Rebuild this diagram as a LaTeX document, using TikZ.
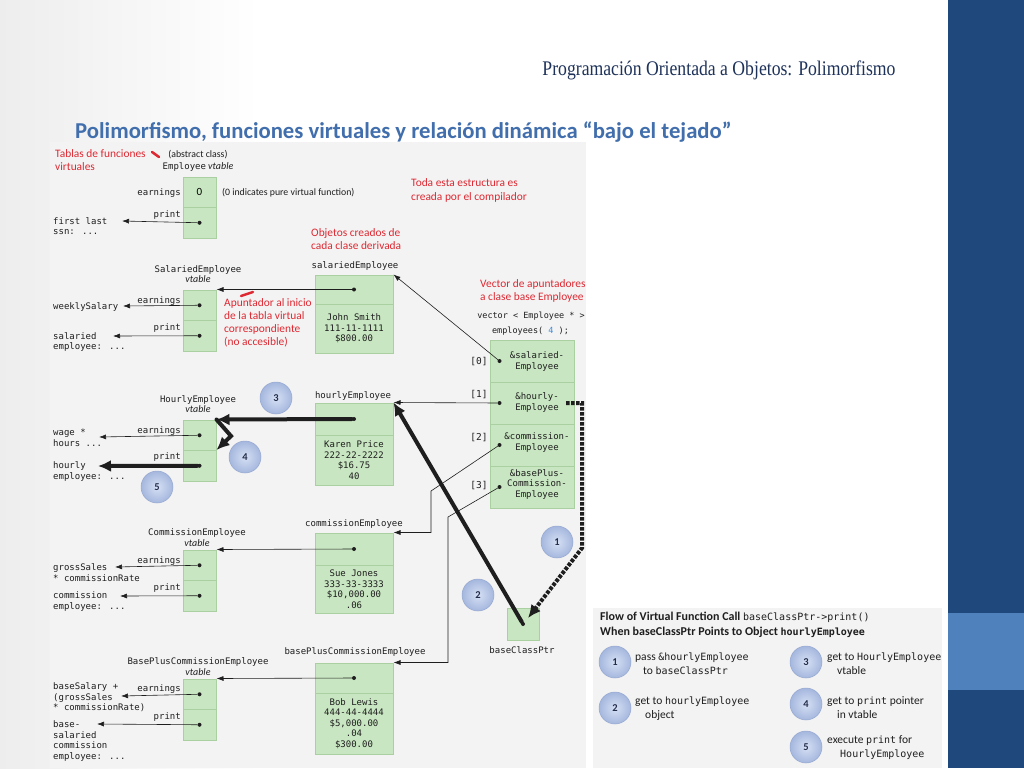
\documentclass[tikz,border=0pt]{standalone}
\usepackage{fontspec}
\setmainfont{Carlito}
\newfontfamily\codefont{DejaVu Sans Mono}
\newfontfamily\titlefont[FakeStretch=0.85]{Liberation Serif}
\usetikzlibrary{arrows.meta}

\definecolor{cellfill}{RGB}{200,230,193}
\definecolor{cellline}{RGB}{170,207,160}
\definecolor{notered}{RGB}{222,40,50}
\definecolor{titleblue}{RGB}{30,50,90}
\definecolor{headblue}{RGB}{65,110,172}
\definecolor{barblue}{RGB}{31,73,125}
\definecolor{barlight}{RGB}{79,129,189}
\definecolor{figgray}{RGB}{243,243,243}
\definecolor{inkc}{RGB}{30,30,30}
\definecolor{stepin}{RGB}{214,224,244}
\definecolor{stepout}{RGB}{165,183,222}
\definecolor{steprim}{RGB}{150,168,208}
\definecolor{steptext}{RGB}{35,45,75}
\definecolor{numblue}{RGB}{60,140,220}

\newcommand{\vtabletext}{{\rmfamily\itshape\fontsize{10}{10.5}\selectfont vtable}}

\tikzset{
  vcell/.style={draw=cellline, fill=cellfill, line width=1pt, minimum width=33pt, minimum height=30.5pt, inner sep=0pt},
  ocell/.style={vcell, minimum width=78pt, font=\codefont\fontsize{9}{10.5}\selectfont, align=center, text=inkc},
  codetext/.style={font=\codefont\fontsize{9}{10.5}\selectfont, inner sep=0pt, align=left, text=inkc},
  sanslabel/.style={font=\fontsize{9.8}{11}\selectfont, inner sep=0pt, text=inkc},
  rednote/.style={font=\fontsize{11.4}{13.5}\selectfont, text=notered, inner sep=0pt, align=left, anchor=west},
  ptrdot/.style={circle, fill=inkc, inner sep=0pt, minimum size=4pt},
  ptr/.style={draw=inkc, line width=0.6pt, -{Latex[length=7pt,width=5pt]}},
  thickptr/.style={draw=inkc, line width=4pt, line cap=round, -{Latex[length=13pt,width=12pt]}},
  dotptr/.style={draw=inkc, line width=4pt, dash pattern=on 3.5pt off 1.5pt, -{Latex[length=13pt,width=12pt]}},
  stepnum/.style={circle, minimum size=32pt, inner sep=0pt, draw=steprim, line width=0.5pt, inner color=stepin, outer color=stepout, font=\bfseries\fontsize{10.5}{12}\selectfont, text=steptext},
  legtext/.style={font=\fontsize{11.5}{14}\selectfont, text=inkc, inner sep=0pt, align=left, anchor=west}
}

\begin{document}
\begin{tikzpicture}[x=1pt, y=-1pt]
\useasboundingbox (0,0) rectangle (1024,768);
\fill[white] (0,0) rectangle (1024,768);
\shade[left color=black!7, right color=white] (0,0) rectangle (260,768);
\fill[barblue] (948,0) rectangle (1024,768);
\fill[barlight] (948,613) rectangle (1024,690);
\fill[figgray] (50,142) rectangle (586,768);
\fill[figgray] (593,608) rectangle (942,768);

\node[font=\titlefont\fontsize{20.8}{24}\selectfont, text=titleblue, anchor=base, inner sep=0pt] (title) at (719,75) {Programación Orientada a Objetos: Polimorfismo};
\node[font=\bfseries\fontsize{22.7}{26}\selectfont, text=headblue, anchor=base west, inner sep=0pt] (subtitle) at (75,138) {Polimorfismo, funciones virtuales y relación dinámica “bajo el tejado”};

\node[rednote] (tablas) at (55,160) {Tablas de funciones\\virtuales};
\node[rednote] (toda) at (411,190.5) {Toda esta estructura es\\creada por el compilador};
\node[rednote] (objetos) at (311,239) {Objetos creados de\\cada clase derivada};
\node[rednote, font=\fontsize{11.4}{13}\selectfont] (apunt) at (224,322.5) {Apuntador al inicio\\de la tabla virtual\\correspondiente\\(no accesible)};
\node[rednote, font=\fontsize{11.4}{12.5}\selectfont] (vecnote) at (480,291) {Vector de apuntadores\\a clase base Employee};
\draw[notered, line width=2.5pt, line cap=round] (152,152) -- (159,157);
\draw[notered, line width=2.5pt, line cap=round] (241,296) -- (253,292);

\node[sanslabel] (abst) at (198,155) {(abstract class)};
\node[sanslabel] (evt) at (198,167) {{\codefont\fontsize{9}{10.5}\selectfont Employee} \vtabletext};
\node[sanslabel, anchor=west] (pure) at (222,193) {(0 indicates pure virtual function)};
\node[codetext, align=center] (svt) at (198,274) {SalariedEmployee\\\vtabletext};
\node[codetext, align=center] (hvt) at (198,404) {HourlyEmployee\\\vtabletext};
\node[codetext, align=center] (cvt) at (197,537.5) {CommissionEmployee\\\vtabletext};
\node[codetext, align=center] (bvt) at (198,666.5) {BasePlusCommissionEmployee\\\vtabletext};

\node[vcell] (EV0) at (199.5,192.25) {\fontsize{11}{12}\selectfont 0};
\node[vcell] (EV1) at (199.5,222.75) {};
\node[vcell] (SV0) at (199.5,305.25) {};
\node[vcell] (SV1) at (199.5,335.75) {};
\node[vcell] (HV0) at (199.5,435.25) {};
\node[vcell] (HV1) at (199.5,465.75) {};
\node[vcell] (CV0) at (199.5,565.25) {};
\node[vcell] (CV1) at (199.5,595.75) {};
\node[vcell] (BV0) at (199.5,694.25) {};
\node[vcell] (BV1) at (199.5,724.75) {};

\node[codetext, anchor=east] (em1) at (181,193) {earnings};
\node[codetext, anchor=east] (em2) at (181,215) {print};
\node[codetext, anchor=east] (sm1) at (181,301) {earnings};
\node[codetext, anchor=east] (sm2) at (181,328) {print};
\node[codetext, anchor=east] (hm1) at (181,431) {earnings};
\node[codetext, anchor=east] (hm2) at (181,457) {print};
\node[codetext, anchor=east] (cm1) at (181,561) {earnings};
\node[codetext, anchor=east] (cm2) at (181,588) {print};
\node[codetext, anchor=east] (bm1) at (181,689) {earnings};
\node[codetext, anchor=east] (bm2) at (181,717) {print};

\node[codetext, anchor=west] (r1) at (53,226) {first last\\ssn: ...};
\node[codetext, anchor=west] (r2) at (53,307) {weeklySalary};
\node[codetext, anchor=west] (r3) at (53,342) {salaried\\employee: ...};
\node[codetext, anchor=west] (r4) at (53,437.5) {wage *\\hours ...};
\node[codetext, anchor=west] (r5) at (53,471.5) {hourly\\employee: ...};
\node[codetext, anchor=west] (r6) at (53,572.5) {grossSales\\* commissionRate};
\node[codetext, anchor=west] (r7) at (53,601.5) {commission\\employee: ...};
\node[codetext, anchor=west] (r8) at (53,697.5) {baseSalary +\\(grossSales\\* commissionRate)};
\node[codetext, anchor=west] (r9) at (53,741) {base-\\salaried\\commission\\employee: ...};

\coordinate (t1) at (122,221);
\coordinate (t2) at (123,306);
\coordinate (t3) at (113,336);
\coordinate (t4) at (99,437);
\coordinate (t5) at (98,466);
\coordinate (t6) at (115,567);
\coordinate (t7) at (120,596);
\coordinate (t8) at (121,696);
\coordinate (t9) at (97,724);

\node[codetext] (sol) at (355,266) {salariedEmployee};
\node[codetext] (hol) at (353,396) {hourlyEmployee};
\node[codetext] (col) at (354,524) {commissionEmployee};
\node[codetext] (bol) at (355,652) {basePlusCommissionEmployee};

\node[ocell, minimum height=29pt] (SO0) at (354,289.5) {};
\node[ocell, minimum height=49pt] (SO1) at (354,328.5) {John Smith\\111-11-1111\\\$800.00};
\node[ocell, minimum height=32pt] (HO0) at (354,419) {};
\node[ocell, minimum height=50pt] (HO1) at (354,460) {Karen Price\\222-22-2222\\\$16.75\\40};
\node[ocell, minimum height=32pt] (CO0) at (354,549) {};
\node[ocell, minimum height=48pt] (CO1) at (354,589) {Sue Jones\\333-33-3333\\\$10,000.00\\.06};
\node[ocell, minimum height=30pt] (BO0) at (354,678) {};
\node[ocell, minimum height=61pt] (BO1) at (354,723.5) {Bob Lewis\\444-44-4444\\\$5,000.00\\.04\\\$300.00};

\node[codetext, font=\codefont\fontsize{8.5}{10}\selectfont] (vdecl) at (531,316) {vector < Employee * >};
\node[codetext, font=\codefont\fontsize{8.5}{10}\selectfont] (vsize) at (530.5,331) {employees( {\color{numblue}4} );};
\node[vcell, minimum width=84pt, minimum height=42pt] (VC0) at (532,361) {};
\node[vcell, minimum width=84pt, minimum height=42pt] (VC1) at (532,403) {};
\node[vcell, minimum width=84pt, minimum height=42pt] (VC2) at (532,445) {};
\node[vcell, minimum width=84pt, minimum height=42pt] (VC3) at (532,487) {};
\node[codetext, align=center] (VT0) at (537,361.5) {\&salaried-\\Employee};
\node[codetext, align=center] (VT1) at (537,402.5) {\&hourly-\\Employee};
\node[codetext, align=center] (VT2) at (537,442.5) {\&commission-\\Employee};
\node[codetext, align=center] (VT3) at (537,484) {\&basePlus-\\Commission-\\Employee};
\node[codetext, font=\codefont\fontsize{9.5}{11}\selectfont] (ix0) at (479,362) {[0]};
\node[codetext, font=\codefont\fontsize{9.5}{11}\selectfont] (ix1) at (479,395) {[1]};
\node[codetext, font=\codefont\fontsize{9.5}{11}\selectfont] (ix2) at (479,438) {[2]};
\node[codetext, font=\codefont\fontsize{9.5}{11}\selectfont] (ix3) at (479,486) {[3]};

\node[vcell, minimum width=32pt, minimum height=32pt] (BP) at (523,624) {};
\node[codetext] (bpl) at (522,650) {baseClassPtr};

\node[ptrdot] (ed1) at (EV1) {};
\node[ptrdot] (sd0) at (SV0) {};
\node[ptrdot] (sd1) at (SV1) {};
\node[ptrdot] (hd0) at (HV0) {};
\node[ptrdot] (hd1) at (HV1) {};
\node[ptrdot] (cd0) at (CV0) {};
\node[ptrdot] (cd1) at (CV1) {};
\node[ptrdot] (bd0) at (BV0) {};
\node[ptrdot] (bd1) at (BV1) {};
\node[ptrdot] (so) at (SO0) {};
\node[ptrdot] (ho) at (HO0) {};
\node[ptrdot] (co) at (CO0) {};
\node[ptrdot] (bo) at (BO0) {};
\node[ptrdot] (vd0) at ([xshift=10pt]VC0.west) {};
\node[ptrdot] (vd1) at ([xshift=10pt]VC1.west) {};
\node[ptrdot] (vd2) at ([xshift=10pt]VC2.west) {};
\node[ptrdot] (vd3) at ([xshift=10pt]VC3.west) {};
\node[ptrdot] (bpd) at (BP) {};

\draw[ptr] (ed1) -- (t1);
\draw[ptr] (sd0) -- (t2);
\draw[ptr] (sd1) -- (t3);
\draw[ptr] (hd0) -- (t4);
\draw[thickptr] (hd1) -- (t5);
\draw[ptr] (cd0) -- (t6);
\draw[ptr] (cd1) -- (t7);
\draw[ptr] (bd0) -- (t8);
\draw[ptr] (bd1) -- (t9);

\draw[ptr] (so) -- (SV0.north east);
\draw[thickptr] (ho) -- (HV0.north east);
\draw[ptr] (co) -- (CV0.north east);
\draw[ptr] (bo) -- (BV0.north east);
\coordinate (z4) at (231,436);
\draw[thickptr, line join=miter] (HV0.north east) -- (z4) -- (HV1.north east);

\coordinate (k2) at (431,491);
\coordinate (k3) at (448,517);
\draw[ptr] (vd0) -- (SO0.north east);
\draw[ptr] (vd1) -- (HO0.north east);
\draw[ptr] (vd2) -- (k2) -- (k2 |- CO0.north east) -- (CO0.north east);
\draw[ptr] (vd3) -- (k3) -- (k3 |- BO0.north east) -- (BO0.north east);

\coordinate (d1s) at (566,403);
\coordinate (d1a) at (582,403);
\coordinate (d1b) at (582,548);
\coordinate (d1e) at (528,618);
\draw[dotptr] (d1s) -- (d1a) -- (d1b) -- (d1e);
\draw[thickptr] (bpd) -- (HO0.north east);

\node[stepnum] (s1) at (557,542) {1};
\node[stepnum] (s2) at (478,595) {2};
\node[stepnum] (s3) at (276,398) {3};
\node[stepnum] (s4) at (245,457) {4};
\node[stepnum] (s5) at (157,487) {5};

\node[legtext, font=\bfseries\fontsize{12}{15}\selectfont] (lhead) at (600,624.5) {Flow of Virtual Function Call {\mdseries\codefont\fontsize{10}{15}\selectfont baseClassPtr->print()}\\When baseClassPtr Points to Object {\codefont\fontsize{10}{15}\selectfont hourlyEmployee}};
\node[stepnum] (l1) at (615,662) {1};
\node[stepnum] (l2) at (615,708) {2};
\node[stepnum] (l3) at (806,662) {3};
\node[stepnum] (l4) at (806,704) {4};
\node[stepnum] (l5) at (806,747) {5};
\node[legtext] (le1) at (635,664) {pass {\codefont\fontsize{10}{14}\selectfont\&hourlyEmployee}\\\hspace*{8pt}to {\codefont\fontsize{10}{14}\selectfont baseClassPtr}};
\node[legtext] (le2) at (635,709) {get to {\codefont\fontsize{10}{14}\selectfont hourlyEmployee}\\\hspace*{10pt}object};
\node[legtext] (le3) at (827,664) {get to {\codefont\fontsize{10}{14}\selectfont HourlyEmployee}\\\hspace*{10pt}vtable};
\node[legtext] (le4) at (827,707.5) {get to {\codefont\fontsize{10}{14}\selectfont print} pointer\\\hspace*{10pt}in vtable};
\node[legtext] (le5) at (827,747.5) {execute {\codefont\fontsize{10}{14}\selectfont print} for\\\hspace*{13pt}{\codefont\fontsize{10}{14}\selectfont HourlyEmployee}};
\end{tikzpicture}
\end{document}
